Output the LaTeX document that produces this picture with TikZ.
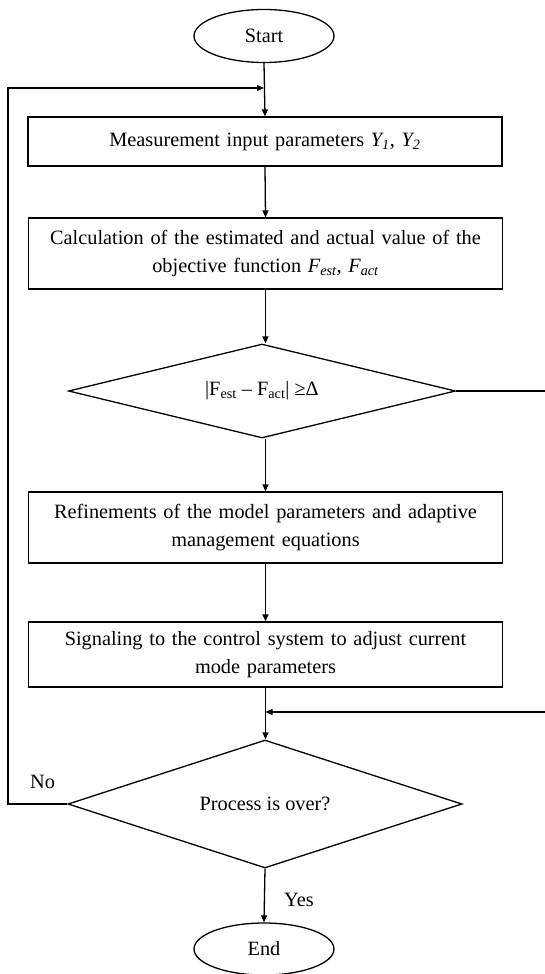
\documentclass[tikz,border=0pt]{standalone}
\usepackage{fontspec}
\setmainfont{Liberation Serif}
\usetikzlibrary{shapes.geometric,arrows.meta}
\begin{document}
\begin{tikzpicture}[x=1pt,y=-1pt,
  every node/.style={font=\fontsize{20.3}{28}\selectfont},
  ln/.style={line width=1.3pt},
  arr/.style={ln,-{Triangle[length=7pt,width=6pt]}},
  box/.style={draw,ln,minimum width=474pt,text width=465pt,align=center,inner sep=0pt},
  term/.style={draw,ln,ellipse,minimum width=140pt,minimum height=53pt,inner sep=0pt},
  dec/.style={draw,ln,diamond,inner sep=0pt}]
\useasboundingbox (0,0) rectangle (545,974);
\node[term] (start) at (264,36) {Start};
\node[box,minimum height=49pt] (b1) at (265,141.5) {Measurement input parameters \textit{Y\textsubscript{1}}, \textit{Y\textsubscript{2}}};
\node[box,minimum height=71pt] (b2) at (265.5,253.5) {Calculation of the estimated and actual value of the\\ objective function \textit{F\textsubscript{est}}, \textit{F\textsubscript{act}}};
\node[dec,aspect=4.1,minimum width=387pt,minimum height=94pt] (d1) at (262,391) {|F\textsubscript{est} – F\textsubscript{act}| ≥Δ};
\node[box,minimum height=71pt] (b3) at (265.5,527.5) {Refinements of the model parameters and adaptive\\ management equations};
\node[box,minimum height=65pt] (b4) at (265.5,654.5) {Signaling to the control system to adjust current\\ mode parameters};
\node[dec,aspect=3.1,minimum width=394pt,minimum height=128pt] (d2) at (265,804) {Process is over?};
\node[term,minimum height=52pt] (end) at (264,949) {End};
\node (no) at (42.5,782) {No};
\node (yes) at (299,900) {Yes};
\coordinate (lx) at (8,88);
\coordinate (jt) at (264,88);
\coordinate (r1) at (545,391);
\coordinate (r2) at (545,712);
\coordinate (j2) at (264,712);
\draw[arr] (start.south) -- (b1.north);
\draw[arr] (d2.west) -| (lx) -- (jt);
\draw[arr] (b1.south) -- (b2.north);
\draw[arr] (b2.south) -- (b2.south |- d1.north);
\draw[ln] (d1.east) -- (r1);
\draw[arr] (b2.south |- d1.south) -- (b3.north);
\draw[arr] (b3.south) -- (b4.north);
\draw[arr] (b4.south) -- (b4.south |- d2.north);
\draw[arr] (r2) -- (b4.south |- r2);
\draw[arr] (d2.south) -- (end.north);
\end{tikzpicture}
\end{document}
